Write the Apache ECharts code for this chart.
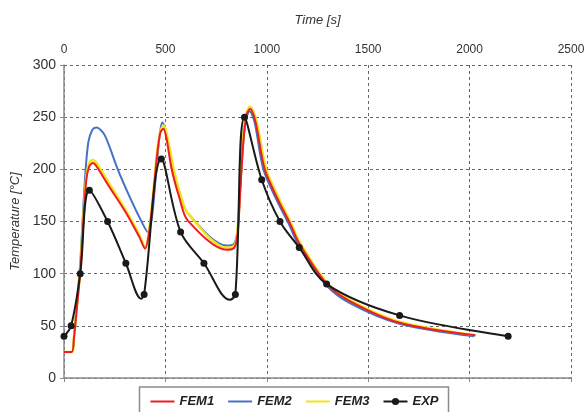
<!DOCTYPE html>
<html>
<head>
<meta charset="utf-8">
<script src="https://cdn.jsdelivr.net/npm/echarts@6/dist/echarts.min.js"></script>
<style>
  html, body { margin: 0; padding: 0; background: #fff; }
  #chart { width: 588px; height: 412px; }
</style>
</head>
<body>
<div id="chart"></div>
<script>
  // time ticks on the top axis
  const timeTicks = [0, 500, 1000, 1500, 2000, 2500];
  const tempTicks = [0, 50, 100, 150, 200, 250, 300];

  // FEM curves [time s, temperature °C]
  const fem1 = [[0,25],[38,25],[50,40],[65,70],[80,102],[95,148],[110,190],[125,203],[142,206],[160,203],
    [224,183],[307,158],[372,135],[400,124],[420,140],[440,175],[460,215],[475,235],[490,239],[505,230],
    [531,200],[570,172],[610,151],[800,123],[840,125],[857,140],[870,182],[885,228],[900,252],[918,258],
    [945,245],[990,200],[1055,171],[1115,148],[1160,129],[1293,91],[1407,74],[1654,53],[2028,41]];
  const fem2 = [[0,25],[38,25],[50,42],[65,75],[80,110],[90,145],[105,195],[120,226],[140,238],[160,240],
    [200,233],[265,200],[330,171],[390,147],[413,140],[433,153],[455,199],[470,230],[484,245],[498,240],
    [536,200],[572,176],[610,158],[800,127],[840,129],[857,145],[870,185],[885,228],[900,250],[915,256],
    [940,245],[983,200],[1050,170],[1110,147],[1160,126],[1293,89],[1407,72],[1654,52],[2023,40]];
  const fem3 = [[0,25],[38,25],[50,41],[65,72],[80,104],[95,152],[110,193],[125,206],[142,209],[160,206],
    [224,186],[307,160],[372,137],[400,125],[420,142],[440,178],[460,218],[478,238],[493,242],[508,233],
    [541,200],[575,175],[610,158],[800,125],[840,127],[855,140],[868,182],[883,230],[900,255],[918,260],
    [948,247],[997,200],[1060,172],[1120,148],[1160,131],[1293,92],[1407,75],[1654,54],[2032,41]];

  // measured points (markers) and the curve's low points between them
  const expPoints = [[0,40],[35,50],[80,100],[125,180],[215,150],[305,110],[395,80],[480,210],[575,140],
    [690,110],[845,80],[890,250],[975,190],[1065,150],[1160,125],[1295,90],[1655,60],[2190,40]];
  const expBends = [[381,76],[818,75]];

  const expData = expPoints.map(p => ({ value: p }))
    .concat(expBends.map(p => ({ value: p, symbol: 'none' })))
    .sort((a, b) => a.value[0] - b.value[0]);

  const font = 'Liberation Sans, Arial, sans-serif';
  const noDot = { color: 'rgba(0,0,0,0)', borderWidth: 0 };
  const chart = echarts.init(document.getElementById('chart'));

  const option = {
    animation: false,
    backgroundColor: '#fff',
    grid: { left: 64, right: 17, top: 65, bottom: 34 },
    legend: {
      top: 387,
      left: 'center',
      padding: [8, 10, 8, 10],
      itemGap: 13,
      itemWidth: 24,
      itemHeight: 9,
      borderColor: '#8c8c8c',
      borderWidth: 1.5,
      textStyle: { fontFamily: font, fontSize: 13, fontWeight: 'bold', fontStyle: 'italic', color: '#222' },
      data: [
        { name: 'FEM1', itemStyle: noDot },
        { name: 'FEM2', itemStyle: noDot },
        { name: 'FEM3', itemStyle: noDot },
        { name: 'EXP' }
      ]
    },
    xAxis: {
      type: 'value',
      position: 'top',
      min: timeTicks[0],
      max: timeTicks[timeTicks.length - 1],
      interval: 500,
      name: 'Time [s]',
      nameLocation: 'middle',
      nameGap: 38,
      nameTextStyle: { fontFamily: font, fontSize: 13, fontStyle: 'italic', color: '#333' },
      axisLine: { show: true, lineStyle: { color: '#8a8a8a', width: 1.5 } },
      axisTick: { show: true, inside: true, length: 4, lineStyle: { color: '#8a8a8a' } },
      axisLabel: { fontFamily: font, fontSize: 12, color: '#333', margin: 9, formatter: v => String(v) },
      splitLine: { show: true, lineStyle: { color: '#666', type: [3, 3], width: 1 } }
    },
    yAxis: {
      type: 'value',
      min: tempTicks[0],
      max: tempTicks[tempTicks.length - 1],
      interval: 50,
      name: 'Temperature [°C]',
      nameLocation: 'middle',
      nameGap: 37,
      nameTextStyle: { fontFamily: font, fontSize: 13, fontStyle: 'italic', color: '#333' },
      axisLine: { show: true, lineStyle: { color: '#8a8a8a', width: 1.5 } },
      axisTick: { show: true, length: 4, lineStyle: { color: '#8a8a8a' } },
      axisLabel: { fontFamily: font, fontSize: 14, color: '#333', margin: 8 },
      splitLine: { show: true, lineStyle: { color: '#666', type: [3, 3], width: 1 } }
    },
    series: [
      {
        name: 'FEM1', type: 'line', data: fem1, smooth: 0.3, symbol: 'none', z: 3,
        lineStyle: { color: '#ee1d23', width: 2 }, itemStyle: { color: '#ee1d23' }
      },
      {
        name: 'FEM2', type: 'line', data: fem2, smooth: 0.3, symbol: 'none', z: 2,
        lineStyle: { color: '#4472c4', width: 2 }, itemStyle: { color: '#4472c4' }
      },
      {
        name: 'FEM3', type: 'line', data: fem3, smooth: 0.3, symbol: 'none', z: 2,
        lineStyle: { color: '#f2e418', width: 2.5 }, itemStyle: { color: '#f2e418' }
      },
      {
        name: 'EXP', type: 'line', data: expData, smooth: 0.35, symbol: 'circle', symbolSize: 7, z: 4,
        lineStyle: { color: '#1a1a1a', width: 2 }, itemStyle: { color: '#1a1a1a' }
      }
    ]
  };

  chart.setOption(option);
</script>
</body>
</html>
